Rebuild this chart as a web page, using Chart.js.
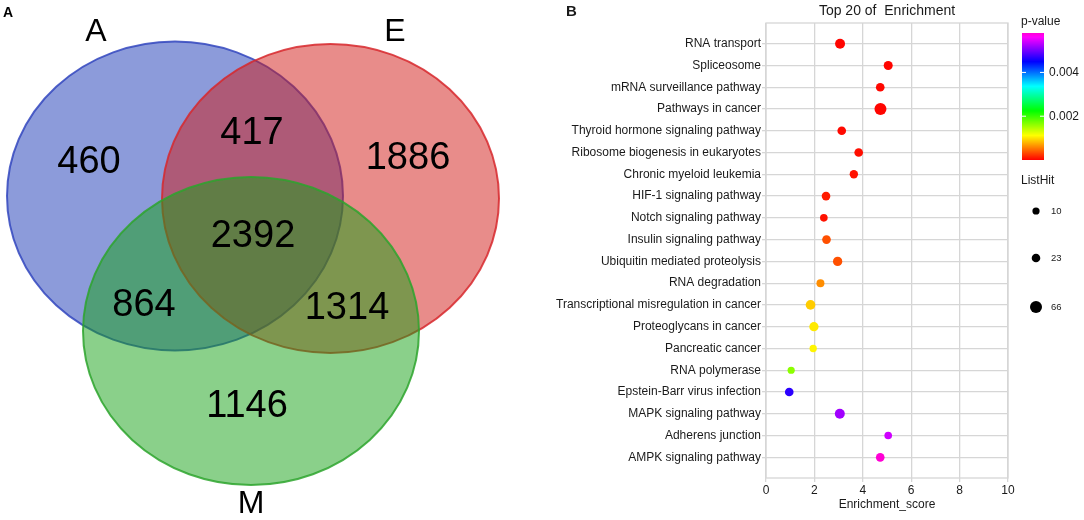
<!DOCTYPE html>
<html>
<head>
<meta charset="utf-8">
<script src="https://cdn.jsdelivr.net/npm/chart.js@4.4.0/dist/chart.umd.min.js"></script>
<style>
  body { margin: 0; background: #fff; width: 1084px; height: 520px; position: relative; overflow: hidden; }
  canvas { position: absolute; top: 0; }
  #venn { left: 0; }
  #dots { left: 520px; }
</style>
</head>
<body>
<canvas id="venn" width="520" height="520"></canvas>
<canvas id="dots" width="564" height="520"></canvas>
<script>
// ---- panel A data
const setNames = ["A", "E", "M"];
const regionNames = ["A", "A&E", "E", "A&E&M", "A&M", "E&M", "M"];
const regionCounts = [460, 417, 1886, 2392, 864, 1314, 1146];

// ---- panel B data
const pathways = [
  "RNA transport", "Spliceosome", "mRNA surveillance pathway", "Pathways in cancer",
  "Thyroid hormone signaling pathway", "Ribosome biogenesis in eukaryotes",
  "Chronic myeloid leukemia", "HIF-1 signaling pathway", "Notch signaling pathway",
  "Insulin signaling pathway", "Ubiquitin mediated proteolysis", "RNA degradation",
  "Transcriptional misregulation in cancer", "Proteoglycans in cancer", "Pancreatic cancer",
  "RNA polymerase", "Epstein-Barr virus infection", "MAPK signaling pathway",
  "Adherens junction", "AMPK signaling pathway"
];
const enrichmentScore = [3.06, 5.05, 4.72, 4.73, 3.13, 3.83, 3.63, 2.48, 2.39, 2.50,
                         2.96, 2.25, 1.84, 1.98, 1.95, 1.04, 0.96, 3.05, 5.05, 4.72];
const pValue = [0.00002, 0.00002, 0.00003, 0.00002, 0.00004, 0.00006, 0.00008, 0.00012, 0.00008, 0.00035,
                0.00035, 0.00062, 0.0009, 0.00103, 0.00108, 0.00163, 0.00468, 0.0052, 0.0054, 0.0058];
const listHit = [39, 28, 24, 66, 24, 24, 21, 24, 14, 24, 31, 17, 35, 31, 11, 10, 24, 39, 14, 24];
const xTicks = [0, 2, 4, 6, 8, 10];
const pValueTicks = [0.002, 0.004];
const listHitBreaks = [10, 23, 66];

// ---- scales for colour and size
const P_MAX = 0.0058;
const HUE_MAX = 310;
function colorFor(p) {
  const h = Math.max(0, Math.min(1, p / P_MAX)) * HUE_MAX;
  return "hsl(" + h + ",100%,50%)";
}
function sizeFor(n) {
  return Math.sqrt(8.9 + 0.41 * n);
}

const FONT = '"Liberation Sans", Arial, sans-serif';

// ---- venn layout (pixel space of the left canvas)
const ellipses = [
  { cx: 175, cy: 196, rx: 168, ry: 154.5, fill: "rgba(25,55,181,0.5)", stroke: "rgba(50,70,190,0.85)" },
  { cx: 330.5, cy: 198.5, rx: 168.5, ry: 154.5, fill: "rgba(209,25,21,0.5)", stroke: "rgba(215,40,45,0.85)" },
  { cx: 251, cy: 331, rx: 168, ry: 154, fill: "rgba(21,161,21,0.5)", stroke: "rgba(45,165,45,0.85)" }
];
const regionPos = [[89, 163], [252, 134], [408, 159], [253, 237], [144, 306], [347, 309], [247, 407]];
const setPos = [[96, 32], [395, 32], [251, 504]];

const vennPlugin = {
  id: "venn",
  beforeDatasetsDraw(chart) {
    const ctx = chart.ctx, xs = chart.scales.x, ys = chart.scales.y;
    ellipses.forEach(e => {
      const cx = xs.getPixelForValue(e.cx), cy = ys.getPixelForValue(e.cy);
      const rx = xs.getPixelForValue(e.cx + e.rx) - cx;
      const ry = ys.getPixelForValue(e.cy + e.ry) - cy;
      ctx.save();
      ctx.beginPath();
      ctx.ellipse(cx, cy, Math.abs(rx), Math.abs(ry), 0, 0, Math.PI * 2);
      ctx.fillStyle = e.fill;
      ctx.fill();
      ctx.lineWidth = 2;
      ctx.strokeStyle = e.stroke;
      ctx.stroke();
      ctx.restore();
    });
  },
  afterDatasetsDraw(chart) {
    const ctx = chart.ctx;
    ctx.save();
    ctx.fillStyle = "#000";
    ctx.textAlign = "center";
    ctx.textBaseline = "middle";
    ctx.font = "38px " + FONT;
    chart.getDatasetMeta(0).data.forEach((pt, i) => {
      ctx.fillText(String(regionCounts[i]), pt.x, pt.y);
    });
    ctx.font = "32px " + FONT;
    chart.getDatasetMeta(1).data.forEach((pt, i) => {
      ctx.fillText(setNames[i], pt.x, pt.y);
    });
    ctx.font = "bold 14px " + FONT;
    ctx.textAlign = "left";
    ctx.fillText("A", 3, 13);
    ctx.restore();
  }
};

new Chart(document.getElementById("venn"), {
  type: "scatter",
  data: {
    datasets: [
      { label: "regions", data: regionPos.map((p, i) => ({ x: p[0], y: p[1], name: regionNames[i] })), pointRadius: 0 },
      { label: "sets", data: setPos.map(p => ({ x: p[0], y: p[1] })), pointRadius: 0 }
    ]
  },
  options: {
    responsive: false,
    animation: false,
    events: [],
    layout: { padding: 0 },
    plugins: { legend: { display: false }, tooltip: { enabled: false } },
    scales: {
      x: { type: "linear", min: 0, max: 520, display: false },
      y: { type: "linear", min: 0, max: 520, reverse: true, display: false }
    }
  },
  plugins: [vennPlugin]
});

// ---- panel B
const OFF = 520; // left offset of the dots canvas
const GRID = "#d6d6d6";

const decorPlugin = {
  id: "decor",
  beforeDatasetsDraw(chart) {
    const a = chart.chartArea, ctx = chart.ctx;
    ctx.save();
    ctx.strokeStyle = GRID;
    ctx.lineWidth = 1.3;
    ctx.strokeRect(a.left, a.top, a.right - a.left, a.bottom - a.top);
    ctx.restore();
  },
  afterDraw(chart) {
    const ctx = chart.ctx, a = chart.chartArea;
    ctx.save();
    ctx.fillStyle = "#1a1a1a";
    ctx.textBaseline = "middle";
    // panel letter
    ctx.font = "bold 15px " + FONT;
    ctx.textAlign = "left";
    ctx.fillText("B", 566 - OFF, 12);
    // title
    ctx.font = "14px " + FONT;
    ctx.textAlign = "center";
    ctx.fillText("Top 20 of  Enrichment", (a.left + a.right) / 2, 11);

    // colour bar
    const bx = 1022 - OFF, bw = 22, top = 33, bottom = 160;
    for (let y = top; y < bottom; y++) {
      const p = (bottom - y - 0.5) / (bottom - top) * P_MAX;
      ctx.fillStyle = colorFor(p);
      ctx.fillRect(bx, y, bw, 1);
    }
    ctx.strokeStyle = "#fff";
    ctx.lineWidth = 1;
    ctx.font = "12px " + FONT;
    ctx.textAlign = "left";
    pValueTicks.forEach(t => {
      const y = bottom - t / P_MAX * (bottom - top);
      ctx.beginPath();
      ctx.moveTo(bx, y); ctx.lineTo(bx + 4, y);
      ctx.moveTo(bx + bw - 4, y); ctx.lineTo(bx + bw, y);
      ctx.stroke();
      ctx.fillStyle = "#1a1a1a";
      ctx.fillText(t.toFixed(3), 1049 - OFF, y);
    });
    ctx.fillStyle = "#1a1a1a";
    ctx.fillText("p-value", 1021 - OFF, 22);

    // size legend
    ctx.fillText("ListHit", 1021 - OFF, 181);
    const ly = [211, 258, 307];
    listHitBreaks.forEach((n, i) => {
      ctx.fillStyle = "#000";
      ctx.beginPath();
      ctx.arc(1036 - OFF, ly[i], sizeFor(n), 0, Math.PI * 2);
      ctx.fill();
      ctx.fillStyle = "#1a1a1a";
      ctx.font = "9.5px " + FONT;
      ctx.fillText(String(n), 1051 - OFF, ly[i]);
    });
    ctx.restore();
  }
};

new Chart(document.getElementById("dots"), {
  type: "scatter",
  data: {
    datasets: [{
      label: "Enrichment",
      data: enrichmentScore.map((x, i) => ({ x: x, y: i })),
      pointRadius: listHit.map(sizeFor),
      pointHoverRadius: listHit.map(sizeFor),
      backgroundColor: pValue.map(colorFor),
      borderWidth: 0
    }]
  },
  options: {
    responsive: false,
    animation: false,
    events: [],
    layout: { padding: { left: 0, right: 76, top: 23, bottom: 0 } },
    plugins: { legend: { display: false }, tooltip: { enabled: false } },
    scales: {
      x: {
        type: "linear", min: 0, max: 10,
        afterBuildTicks: s => { s.ticks = xTicks.map(v => ({ value: v })); },
        afterFit: s => { s.height = 42; },
        grid: { color: GRID, lineWidth: 1.3, tickLength: 4, tickColor: GRID },
        border: { display: false },
        ticks: { color: "#1a1a1a", font: { size: 12, family: FONT }, padding: 1, maxRotation: 0 },
        title: { display: true, text: "Enrichment_score", color: "#1a1a1a",
                 font: { size: 12, family: FONT }, padding: { top: 0, bottom: 8 } }
      },
      y: {
        type: "linear", reverse: true, min: -0.95, max: 19.95,
        afterBuildTicks: s => { s.ticks = pathways.map((_, i) => ({ value: i })); },
        afterFit: s => { s.width = 246; },
        grid: { color: GRID, lineWidth: 1.3, tickLength: 4, tickColor: GRID },
        border: { display: false },
        ticks: { color: "#1a1a1a", font: { size: 12, family: FONT }, padding: 1, autoSkip: false,
                 callback: v => pathways[v] }
      }
    }
  },
  plugins: [decorPlugin]
});
</script>
</body>
</html>
